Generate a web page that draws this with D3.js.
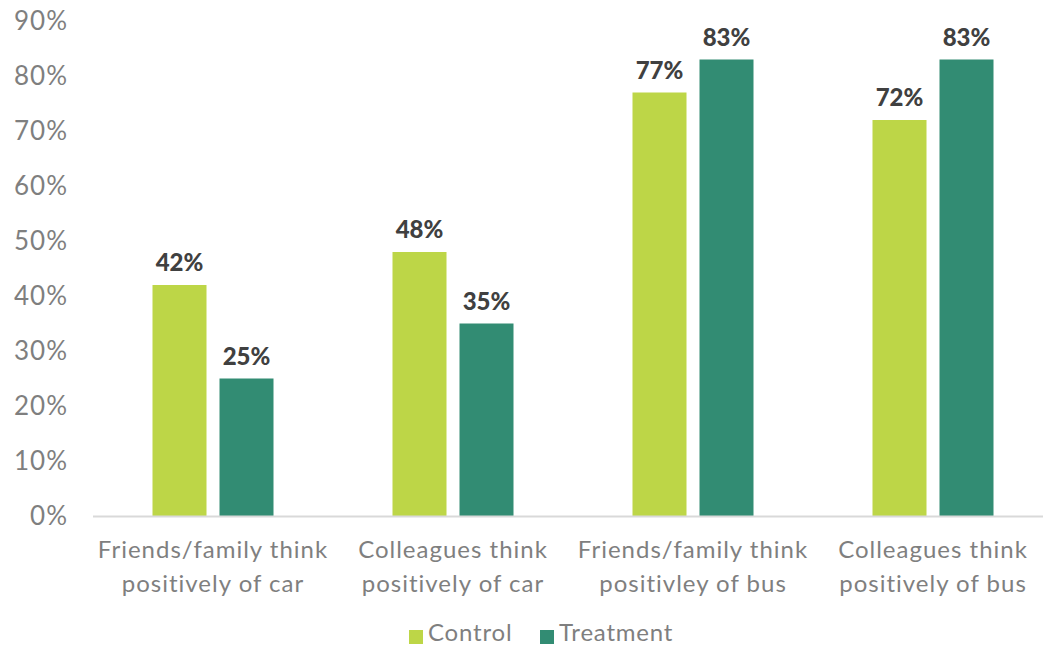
<!DOCTYPE html>
<html>
<head>
<meta charset="utf-8">
<script src="https://cdn.jsdelivr.net/npm/d3@7"></script>
<style>
  body { margin: 0; background: #fff; }
  text { font-family: "Lato", "Noto Sans", sans-serif; }
</style>
</head>
<body>
<div id="chart"></div>
<script>
// chart data
var categories = [
  ["Friends/family think", "positively of car"],
  ["Colleagues think", "positively of car"],
  ["Friends/family think", "positivley of bus"],
  ["Colleagues think", "positively of bus"]
];
var seriesNames = ["Control", "Treatment"];
var control = [42, 48, 77, 72];
var treatment = [25, 35, 83, 83];
var yTicks = [0, 10, 20, 30, 40, 50, 60, 70, 80, 90];
var colors = ["#bdd647", "#328c73"];

var svgWidth = 1043;
var svgHeight = 646;

var svg = d3.select("#chart")
  .append("svg")
  .attr("width", svgWidth)
  .attr("height", svgHeight);

// scales
var x0 = d3.scaleBand()
  .domain(d3.range(categories.length))
  .range([93, 1053]);

var x1 = d3.scaleBand()
  .domain(seriesNames)
  .range([-60.5, 60.5])
  .paddingInner(13 / 67);

var y = d3.scaleLinear()
  .domain([0, 90])
  .range([516, 21]);

// y axis labels (no line)
svg.append("g")
  .selectAll("text")
  .data(yTicks)
  .enter()
  .append("text")
  .attr("x", 68)
  .attr("y", d => y(d))
  .attr("dy", "0.36em")
  .attr("text-anchor", "end")
  .attr("fill", "#7f7f7f")
  .style("font-size", "26px")
  .style("letter-spacing", "1px")
  .text(d => d + "%");

// bars
var groups = svg.selectAll(".grp")
  .data(categories.map((c, i) => ({ i: i, vals: [control[i], treatment[i]] })))
  .enter()
  .append("g")
  .attr("class", "grp")
  .attr("transform", d => `translate(${x0(d.i) + x0.bandwidth() / 2},0)`);

groups.selectAll("rect")
  .data(d => d.vals.map((v, k) => ({ name: seriesNames[k], v: v, k: k })))
  .enter()
  .append("rect")
  .attr("x", d => x1(d.name))
  .attr("width", x1.bandwidth())
  .attr("y", d => y(d.v))
  .attr("height", d => y(0) - y(d.v))
  .attr("fill", d => colors[d.k]);

groups.selectAll(".val")
  .data(d => d.vals.map((v, k) => ({ name: seriesNames[k], v: v })))
  .enter()
  .append("text")
  .attr("class", "val")
  .attr("x", d => x1(d.name) + x1.bandwidth() / 2)
  .attr("y", d => y(d.v) - 14)
  .attr("text-anchor", "middle")
  .attr("fill", "#404040")
  .style("font-size", "24px")
  .style("font-weight", "900")
  .text(d => d.v + "%");

// x axis line
svg.append("line")
  .attr("x1", 93)
  .attr("x2", svgWidth)
  .attr("y1", y(0) + 0.5)
  .attr("y2", y(0) + 0.5)
  .attr("stroke", "#d9d9d9")
  .attr("stroke-width", 2);

// category labels
var cat = svg.append("g")
  .selectAll("text")
  .data(categories)
  .enter()
  .append("text")
  .attr("x", (d, i) => x0(i) + x0.bandwidth() / 2)
  .attr("y", 558)
  .attr("text-anchor", "middle")
  .attr("fill", "#7f7f7f")
  .style("font-size", "24px")
  .style("letter-spacing", "1px");

cat.selectAll("tspan")
  .data(d => d)
  .enter()
  .append("tspan")
  .attr("x", function() { return d3.select(this.parentNode).attr("x"); })
  .attr("dy", (d, i) => i === 0 ? 0 : 34)
  .text(d => d);

// legend
var legend = svg.append("g");
var legendX = [409, 540];
seriesNames.forEach(function(name, k) {
  legend.append("rect")
    .attr("x", legendX[k])
    .attr("y", 630)
    .attr("width", 14)
    .attr("height", 14)
    .attr("fill", colors[k]);
  legend.append("text")
    .attr("x", legendX[k] + 19)
    .attr("y", 641)
    .attr("fill", "#7f7f7f")
    .style("font-size", "24px")
    .style("letter-spacing", "0.8px")
    .text(name);
});
</script>
</body>
</html>
